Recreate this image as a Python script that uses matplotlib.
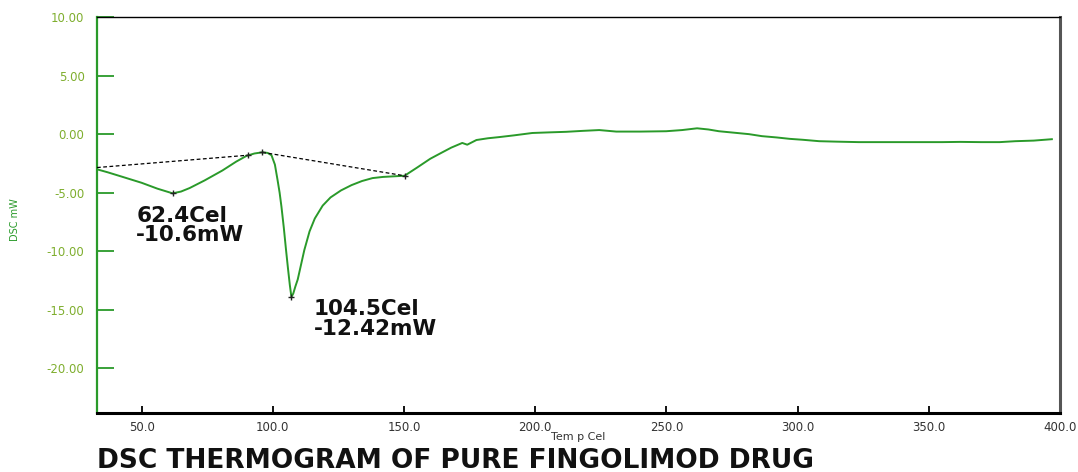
import matplotlib
matplotlib.use("Agg")
import matplotlib.pyplot as plt

# DSC heat-flow curve of pure fingolimod (temperature in Cel, signal in mW)
temp = [33.0, 37.0, 42.8, 50.0, 56.0, 61.8, 65.0, 68.3, 74.0, 80.8, 86.0, 90.0,
        93.0, 96.0, 98.0, 99.5, 100.8, 101.8, 102.6, 103.3, 104.2, 105.0,
        105.8, 106.5, 107.1, 107.8, 108.6, 109.5, 110.5, 112.0, 114.0, 116.0,
        119.0, 122.0, 126.0, 130.0, 134.0, 138.0, 142.0, 146.0, 150.2,
        155.0, 160.0, 164.6, 168.0, 172.2, 174.1, 177.6, 182.0, 186.3, 192.0,
        198.9, 205.0, 211.8, 218.0, 224.4, 230.9, 240.0, 249.9, 256.0, 261.7,
        266.0, 270.0, 276.0, 281.5, 286.4, 292.0, 297.0, 302.0, 308.2, 315.0,
        323.4, 335.0, 345.0, 355.0, 362.0, 370.0, 377.0, 383.0, 390.0, 396.9]
dsc = [-3.00, -3.25, -3.65, -4.15, -4.65, -5.05, -4.90, -4.60, -3.95, -3.10,
       -2.35, -1.85, -1.65, -1.55, -1.60, -1.80, -2.60, -3.90, -5.00, -6.20,
       -8.00, -9.80, -11.50, -12.90, -13.90, -13.60, -13.00, -12.40, -11.40,
       -9.90, -8.30, -7.20, -6.10, -5.40, -4.80, -4.35, -4.00, -3.75, -3.65,
       -3.60, -3.55,
       -2.85, -2.10, -1.55, -1.15, -0.75, -0.90, -0.50, -0.35, -0.25, -0.10,
       0.10, 0.15, 0.20, 0.28, 0.35, 0.22, 0.22, 0.25, 0.35, 0.50,
       0.40, 0.25, 0.12, 0.00, -0.17, -0.28, -0.40, -0.48, -0.60, -0.64,
       -0.68, -0.68, -0.68, -0.68, -0.66, -0.68, -0.68, -0.60, -0.55, -0.43]

# Integration baselines drawn under the two endotherms
base1_t = [33.0, 90.4]
base1_y = [-2.85, -1.80]
base2_t = [96.0, 150.2]
base2_y = [-1.55, -3.55]

# Peak results reported by the analyser
peak_temp = [62.4, 104.5]
peak_heat = [-10.6, -12.42]
peak_mark_t = [61.8, 107.1]
peak_mark_y = [-5.05, -13.90]
label_pos_t = [48.0, 115.5]
label_pos_y = [-6.10, -14.10]

x_ticks = [50, 100, 150, 200, 250, 300, 350, 400]
y_ticks = [10, 5, 0, -5, -10, -15, -20]

W, H = 1078, 472
fig = plt.figure(figsize=(W / 100, H / 100), dpi=100)
ax = fig.add_axes([97 / W, 1 - 413 / H, (1060 - 97) / W, (413 - 17) / H])

green = "#2a9a2a"
ax.plot(temp, dsc, color=green, lw=1.4, zorder=3)
ax.plot(base1_t, base1_y, color="black", lw=0.9, ls=(0, (3, 2)), zorder=4)
ax.plot(base2_t, base2_y, color="black", lw=0.9, ls=(0, (3, 2)), zorder=4)

# small cross marks at baseline limits and peak tops
ax.plot([base1_t[1], base2_t[0], base2_t[1]] + peak_mark_t,
        [base1_y[1], base2_y[0], base2_y[1]] + peak_mark_y,
        ls="none", marker="+", ms=5, mew=1.0, color="#222222", zorder=5)

for t, q, lx, ly in zip(peak_temp, peak_heat, label_pos_t, label_pos_y):
    ax.text(lx, ly, f"{t:.1f}Cel\n{q:g}mW", fontsize=15.5, fontweight="bold",
            color="#111111", ha="left", va="top", linespacing=0.95)

ax.set_xlim(33, 400)
ax.set_ylim(-23.8, 10.0)
ax.set_xticks(x_ticks)
ax.set_xticklabels([f"{v:.1f}" for v in x_ticks])
ax.set_yticks(y_ticks)
ax.set_yticklabels([f"{v:.2f}" for v in y_ticks])

ax.tick_params(axis="y", direction="in", length=12, width=1.3, color=green,
               labelsize=8.5, labelcolor="#7fae2e", pad=9)
ax.tick_params(axis="x", direction="in", length=5, width=1.3, color="black",
               labelsize=8.5, labelcolor="#333333", pad=6)

ax.spines["left"].set_color(green)
ax.spines["left"].set_linewidth(1.6)
ax.spines["bottom"].set_color("black")
ax.spines["bottom"].set_linewidth(2.2)
ax.spines["top"].set_color("black")
ax.spines["top"].set_linewidth(1.0)
ax.spines["right"].set_color("#555555")
ax.spines["right"].set_linewidth(2.2)

fig.text(578 / W, 1 - 437 / H, "Tem p Cel", fontsize=8, color="#333333",
         ha="center", va="center")
fig.text(15 / W, 1 - 220 / H, "DSC mW", fontsize=7, color=green,
         rotation=90, ha="center", va="center",
         family=["Liberation Sans Narrow", "DejaVu Sans"])
fig.text(97 / W, 1 - 461 / H, "DSC THERMOGRAM OF PURE FINGOLIMOD DRUG",
         fontsize=19, fontweight="bold", color="#111111",
         ha="left", va="center")

fig.savefig("out.png", dpi=100)
